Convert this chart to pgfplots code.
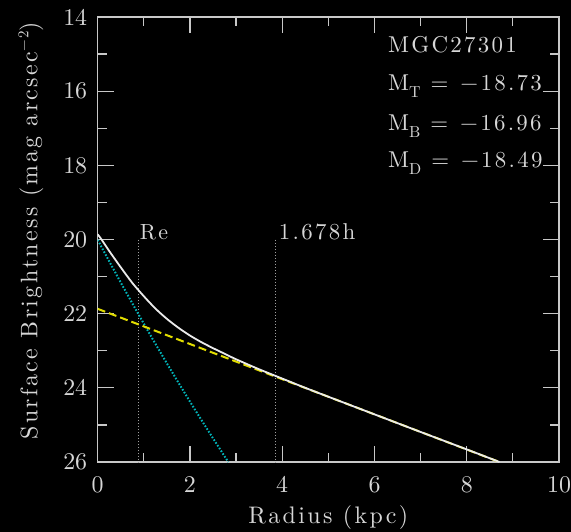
\documentclass[border=0pt]{standalone}
\usepackage{fontspec}
\setmainfont{lmroman10-regular}[Extension=.otf]
\newfontfamily\lbl{lmroman10-regular}[Extension=.otf, LetterSpace=10]
\usepackage{pgfplots}
\pgfplotsset{compat=1.18}
\definecolor{fg}{RGB}{215,215,215}
\definecolor{axcol}{RGB}{200,200,200}
\definecolor{bulge}{RGB}{0,180,185}
\definecolor{disk}{RGB}{225,220,0}
\definecolor{total}{RGB}{235,235,235}
\definecolor{vline}{RGB}{160,160,160}
\newcommand{\sub}[1]{\raisebox{-7bp}{\fontsize{16}{16}\selectfont #1}}
\newcommand{\mline}[2]{M\sub{#1}\hspace{10bp}=\hspace{12bp}−#2}
\begin{document}
\begin{tikzpicture}
\fill[black] (-97.7bp,-70bp) rectangle (473.3bp,462bp);
\begin{axis}[
  at={(0,0)}, anchor=south west,
  scale only axis, width=461.3bp, height=445bp,
  xmin=0, xmax=10, ymin=14, ymax=26, y dir=reverse,
  xtick={0,2,...,10}, ytick={14,16,...,26},
  minor x tick num=1, minor y tick num=1,
  major tick length=16bp, minor tick length=9bp,
  tick style={draw=axcol, line width=1.2bp},
  axis line style={draw=axcol, line width=1.4bp},
  /pgf/number format/assume math mode=true,
  tick label style={text=fg, font=\fontsize{24}{28}\selectfont},
  label style={text=fg, font=\lbl\fontsize{24}{28}\selectfont},
  xticklabel shift=11bp, yticklabel shift=7bp,
  xlabel={Radius (kpc)},
  ylabel={Surface Brightness (mag arcsec\raisebox{9bp}{\fontsize{15}{15}\selectfont −2})},
  xlabel style={at={(ticklabel cs:0.5,6bp)}},
  ylabel style={at={(ticklabel cs:0.52,13bp)}},
]
% vertical markers
\addplot[vline, line width=0.9bp, dash pattern=on 1bp off 2bp] coordinates {(0.89,20) (0.89,26)};
\addplot[vline, line width=0.9bp, dash pattern=on 1bp off 2bp] coordinates {(3.86,20) (3.86,26)};
% bulge
\addplot[bulge, line width=2bp, dash pattern=on 1.6bp off 1.7bp, smooth] coordinates {
(0,20.01) (0.25,20.59) (0.5,21.16) (0.75,21.72) (1.0,22.27) (1.25,22.81)
(1.5,23.34) (1.75,23.86) (2.0,24.37) (2.25,24.87) (2.5,25.36) (2.83,26.00)};
% disk
\addplot[disk, line width=2bp, dash pattern=on 8bp off 4bp] coordinates {(0,21.87) (8.71,26.0)};
% total
\addplot[total, line width=1.8bp, smooth] coordinates {
(0,19.86) (0.1,20.03) (0.25,20.31) (0.5,20.75) (0.75,21.17) (1.0,21.53)
(1.25,21.86) (1.5,22.14) (1.75,22.38) (2.0,22.59) (2.25,22.77) (2.5,22.93)
(2.75,23.08) (3.0,23.23) (3.5,23.50) (4.0,23.75) (4.5,24.00) (5,24.24)
(6,24.715) (7,25.19) (8,25.66) (8.71,26.0)};
\node[anchor=base west, inner sep=0, xshift=1bp, text=fg, font=\lbl\fontsize{22}{28}\selectfont] at (axis cs:0.89,20) {Re};
\node[anchor=base west, inner sep=0, xshift=3bp, text=fg, font=\lbl\fontsize{23}{28}\selectfont] at (axis cs:3.86,20) {1.678h};
\node[anchor=base west, inner sep=0, text=fg, font=\lbl\fontsize{23}{28}\selectfont] at (axis cs:6.29,14.97) {MGC27301};
\node[anchor=base west, inner sep=0, text=fg, font=\lbl\fontsize{23}{28}\selectfont] at (axis cs:6.29,15.97) {\mline{T}{18.73}};
\node[anchor=base west, inner sep=0, text=fg, font=\lbl\fontsize{23}{28}\selectfont] at (axis cs:6.29,17.05) {\mline{B}{16.96}};
\node[anchor=base west, inner sep=0, text=fg, font=\lbl\fontsize{23}{28}\selectfont] at (axis cs:6.29,18.07) {\mline{D}{18.49}};
\end{axis}
\pgfresetboundingbox
\path (-97.7bp,-70bp) rectangle (473.3bp,462bp);
\end{tikzpicture}
\end{document}
